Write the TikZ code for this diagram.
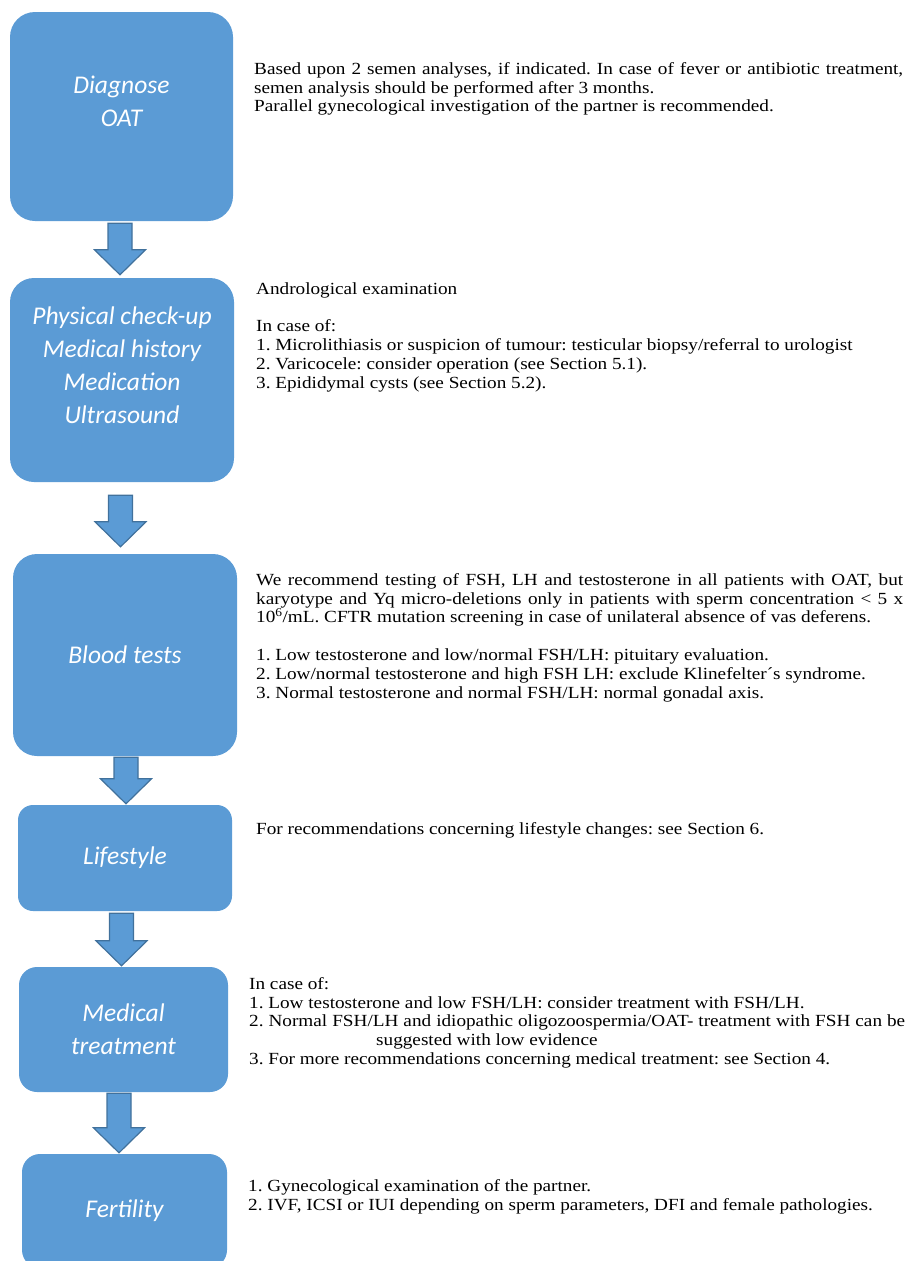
\documentclass[tikz,border=0pt]{standalone}
\usepackage{fontspec}
\usetikzlibrary{calc}
\newfontfamily\boxfont{Carlito}
\newfontfamily\notefont[FakeStretch=1.13]{Liberation Serif}
\definecolor{StageBlue}{HTML}{5B9BD5}
\definecolor{StageEdge}{HTML}{41719C}
\frenchspacing

\begin{document}
\begin{tikzpicture}[x=1pt,y=-1pt]
  \tikzstyle{stagetext}=[align=center,text=white,
    font=\boxfont\itshape\fontsize{25.5}{33}\selectfont]
  \tikzstyle{stage}=[stagetext,fill=StageBlue,inner sep=0pt]
  \tikzstyle{note}=[anchor=north west,inner sep=0pt,align=left,
    font=\notefont\fontsize{17}{18.9}\selectfont]
  \tikzstyle{blockarr}=[fill=StageBlue,draw=StageEdge,line width=1.2pt]
  \clip (0,0) rectangle (911,1261);

  % stages
  \node[stage,minimum width=223,minimum height=209,rounded corners=25,
    label={[stagetext,yshift=15]center:Diagnose\\OAT}] (diag) at (121.5,116.5) {};
  \node[stage,minimum width=224,minimum height=204,rounded corners=24,
    label={[stagetext,yshift=14.5]center:Physical check-up\\Medical history\\Medication\\Ultrasound}]
    (phys) at (122,380) {};
  \node[stage,minimum width=224,minimum height=202,rounded corners=24] (blood) at (125,655) {Blood tests};
  \node[stage,minimum width=214,minimum height=106,rounded corners=15] (life) at (125,858) {Lifestyle};
  \node[stage,minimum width=209,minimum height=125,rounded corners=18] (med) at (123.5,1029.5) {Medical\\treatment};
  \node[stage,minimum width=205,minimum height=114,rounded corners=18] (fert) at (124.5,1211) {Fertility};

  % block arrows between stages
  \foreach \a/\b/\x/\s/\g in {diag/phys/120/2/3, phys/blood/120.5/13/7,
      blood/life/126/1/1, life/med/121.5/2/1, med/fert/119/1/1} {
    \path ($(\x,0 |- \a.south)+(0,\s)$) coordinate (top)
          ($(\x,0 |- \b.north)+(0,-\g)$) coordinate (tip);
    \draw[blockarr] ($(top)+(-12,0)$) -- ($(top)+(12,0)$) -- ($(tip)+(12,-25)$)
      -- ($(tip)+(25.5,-25)$) -- (tip) -- ($(tip)+(-25.5,-25)$)
      -- ($(tip)+(-12,-25)$) -- cycle;
  }

  % notes
  \node[note] (diagnote) at (254,62) {\makebox[649pt][s]{Based upon 2 semen analyses, if indicated. In case of fever or antibiotic treatment,}\\
    semen analysis should be performed after 3 months.\\
    Parallel gynecological investigation of the partner is recommended.};
  \node[note] (physnote) at (256,282) {Andrological examination\\[18.9pt]
    In case of:\\
    1. Microlithiasis or suspicion of tumour: testicular biopsy/referral to urologist\\
    2. Varicocele: consider operation (see Section 5.1).\\
    3. Epididymal cysts (see Section 5.2).};
  \node[note] (bloodnote) at (256,573) {\makebox[647pt][s]{We recommend testing of FSH, LH and testosterone in all patients with OAT, but}\\
    \makebox[647pt][s]{karyotype and Yq micro-deletions only in patients with sperm concentration < 5 x}\\
    10\textsuperscript{6}/mL. CFTR mutation screening in case of unilateral absence of vas deferens.\\[18.9pt]
    1. Low testosterone and low/normal FSH/LH: pituitary evaluation.\\
    2. Low/normal testosterone and high FSH LH: exclude Klinefelter´s syndrome.\\
    3. Normal testosterone and normal FSH/LH: normal gonadal axis.};
  \node[note] (lifenote) at (256,822) {For recommendations concerning lifestyle changes: see Section 6.};
  \node[note] (mednote) at (249,977) {In case of:\\
    1. Low testosterone and low FSH/LH: consider treatment with FSH/LH.\\
    \makebox[656pt][s]{2. Normal FSH/LH and idiopathic oligozoospermia/OAT- treatment with FSH can be}\\
    \hspace*{127pt}suggested with low evidence\\
    3. For more recommendations concerning medical treatment: see Section 4.};
  \node[note] (fertnote) at (248,1179) {1. Gynecological examination of the partner.\\
    2. IVF, ICSI or IUI depending on sperm parameters, DFI and female pathologies.};
\end{tikzpicture}
\end{document}
